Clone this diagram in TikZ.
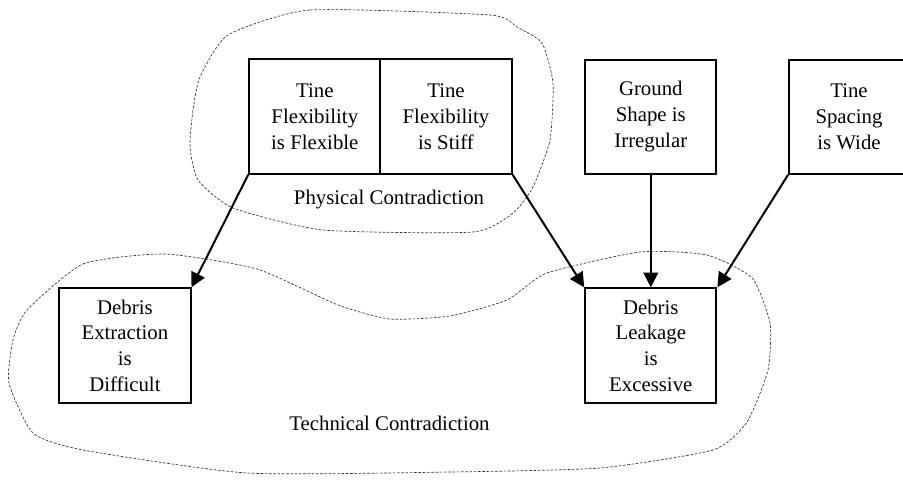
\documentclass[tikz,border=0pt]{standalone}
\usepackage{fontspec}
\setmainfont{Liberation Serif}
\usetikzlibrary{arrows.meta}

\begin{document}
\begin{tikzpicture}[x=0.75pt, y=-0.75pt,
  every node/.style={font=\fontsize{15.6}{19.3}\selectfont},
  factbox/.style={draw, line width=1.5pt, rectangle, align=center,
    minimum width=98.4pt, minimum height=85.8pt, inner sep=0pt},
  causes/.style={line width=1.5pt, -{Triangle[length=11pt, width=11pt]}},
  region/.style={draw=black!80, line width=0.5pt, dash pattern=on 2pt off 1.2pt},
  caption/.style={inner sep=0pt}]

  \useasboundingbox (0,0) rectangle (903,479);

  % grouping outlines
  \draw[region] plot[smooth cycle, tension=0.35] coordinates {
    (228,35) (310,10) (490,15) (517,27) (542,43) (553,83) (550,140)
    (533,187) (513,213) (473,232) (323,230) (233,208) (198,180)
    (190,147) (193,110) (200,77)};
  \draw[region] plot[smooth cycle, tension=0.35] coordinates {
    (27,310) (83,264) (165,254) (257,269) (338,305) (390,319) (450,316)
    (507,300) (547,273) (640,252) (707,255) (752,278) (770,323)
    (768,370) (747,422) (713,450) (600,468) (450,472) (247,473)
    (83,450) (33,433) (9,383) (13,340)};

  % boxes
  \node[factbox] (flex)   at (314.8,116.5) {Tine\\Flexibility\\is Flexible};
  \node[factbox] (stiff)  at (446.0,116.5) {Tine\\Flexibility\\is Stiff};
  \node[factbox] (ground) at (650.8,116.7) {Ground\\Shape is\\Irregular};
  \begin{scope}
    \clip (0,0) rectangle (903,479);
    \node[factbox, minimum width=90pt] (spacing) at (849,116.7) {Tine\\Spacing\\is Wide};
  \end{scope}
  \node[factbox] (extr) at (124.9,345.5) {Debris\\Extraction\\is\\Difficult};
  \node[factbox] (leak) at (650.8,345.5) {Debris\\Leakage\\is\\Excessive};

  % region captions
  \node[caption] (phys) at (389,200) {Physical Contradiction};
  \node[caption] (tech) at (389.5,423) {Technical Contradiction};

  % connectors
  \draw[causes] (flex.south west)    -- (extr.north east);
  \draw[causes] (stiff.south east)   -- (leak.north west);
  \draw[causes] (ground.south)       -- (leak.north);
  \draw[causes] (spacing.south west) -- (leak.north east);
\end{tikzpicture}
\end{document}
